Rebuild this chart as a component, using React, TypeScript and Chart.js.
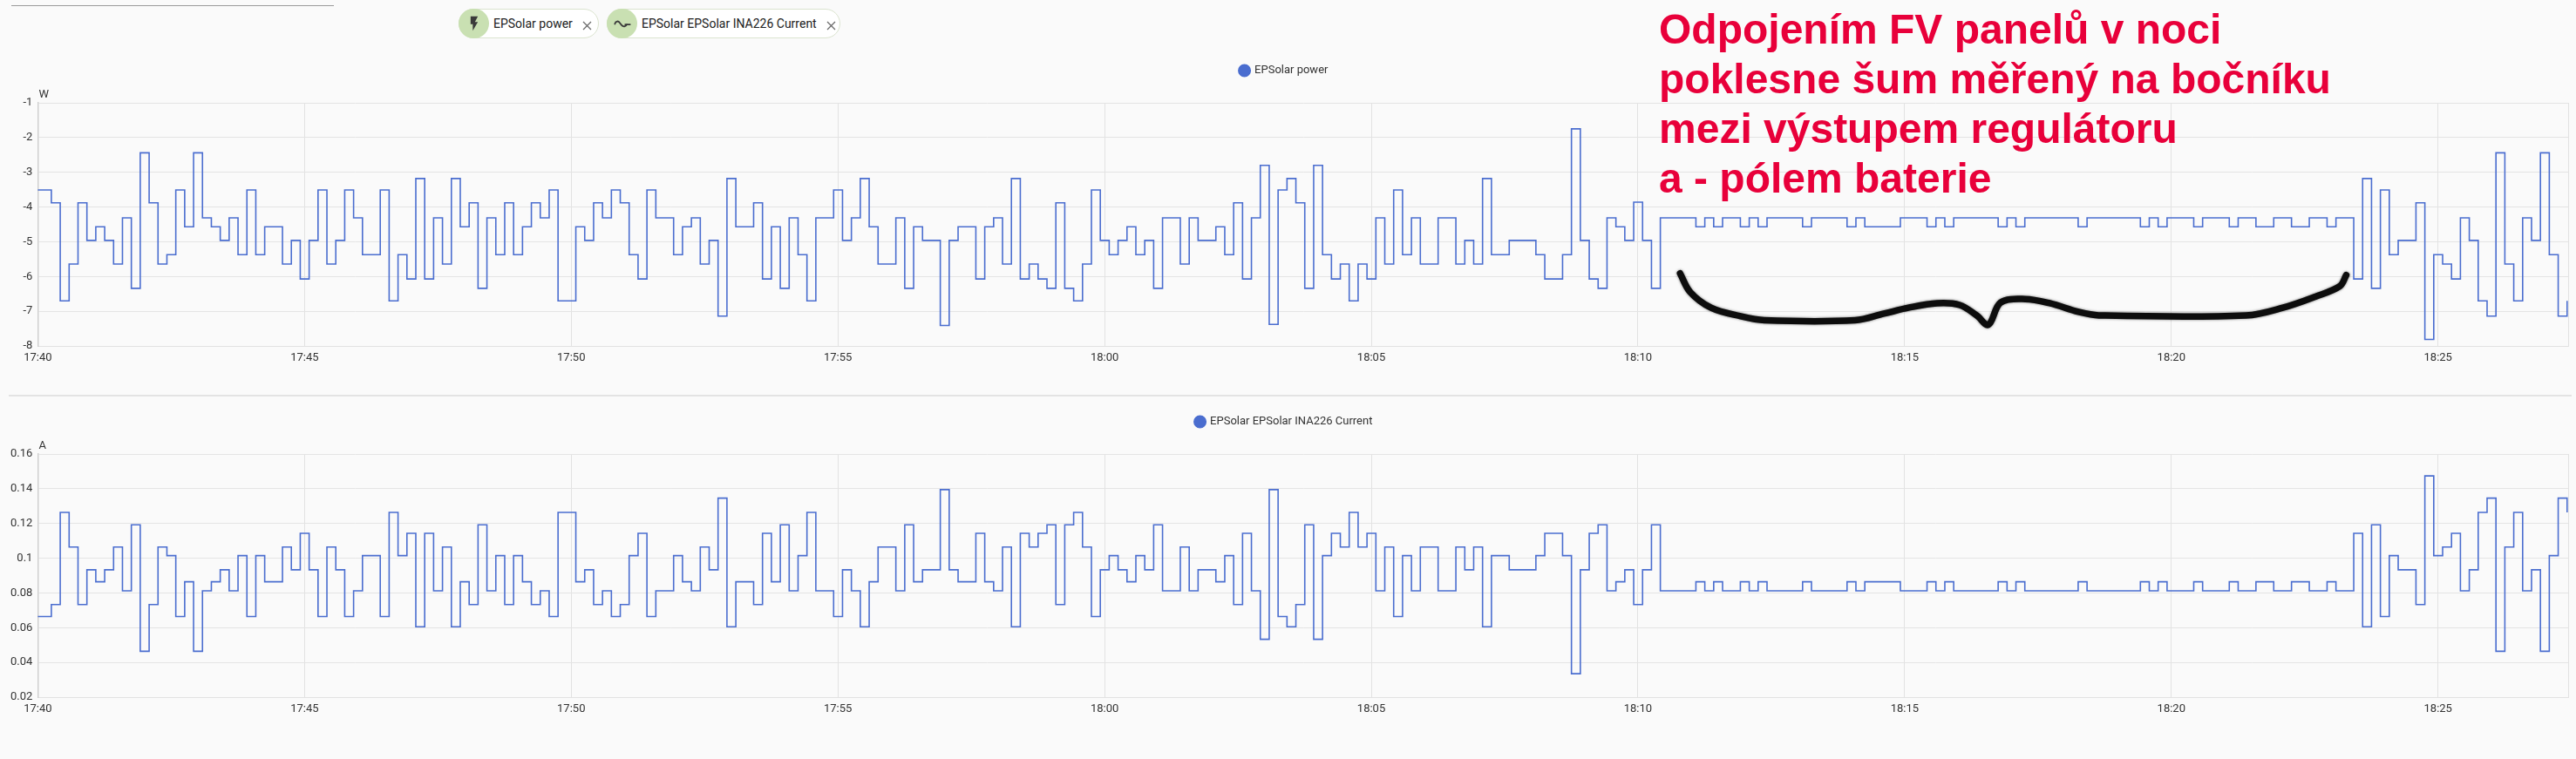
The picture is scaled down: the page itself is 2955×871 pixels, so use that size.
import React, { useEffect, useRef } from 'react';
import { Chart, registerables } from 'chart.js';

Chart.register(...registerables);

// ---------- time axis ----------
const START_HOUR = 17;
const START_MINUTE = 40;
const FIRST_SAMPLE_SEC = -4.8; // first recorded sample, seconds after 17:40:00
const SAMPLE_STEP_SEC = 10; // the sensor reports every 10 s
const X_MAX_MIN = 47.44; // right edge of the plot, minutes after 17:40
const X_TICK_STEP_MIN = 5;

// ---------- series: EPSolar power [W] ----------
const powerValues = [
  -3.51, -3.51, -3.88, -6.70, -5.64, -3.88, -4.96, -4.57, -4.96, -5.64,
  -4.31, -6.34, -2.44, -3.88, -5.64, -5.37, -3.51, -4.57, -2.44, -4.31,
  -4.57, -4.96, -4.31, -5.37, -3.51, -5.37, -4.57, -4.57, -5.64, -4.96,
  -6.07, -4.96, -3.51, -5.64, -4.96, -3.51, -4.31, -5.37, -5.37, -3.51,
  -6.70, -5.37, -6.07, -3.18, -6.07, -4.31, -5.64, -3.18, -4.57, -3.88,
  -6.34, -4.31, -5.37, -3.88, -5.37, -4.57, -3.88, -4.31, -3.51, -6.70,
  -6.70, -4.57, -4.96, -3.88, -4.31, -3.51, -3.88, -5.37, -6.07, -3.51,
  -4.31, -4.31, -5.37, -4.57, -4.31, -5.64, -4.96, -7.14, -3.18, -4.57,
  -4.57, -3.88, -6.07, -4.57, -6.34, -4.31, -5.37, -6.70, -4.31, -4.31,
  -3.51, -4.96, -4.31, -3.18, -4.57, -5.64, -5.64, -4.31, -6.34, -4.57,
  -4.96, -4.96, -7.41, -4.96, -4.57, -4.57, -6.07, -4.57, -4.31, -5.64,
  -3.18, -6.07, -5.64, -6.07, -6.34, -3.88, -6.34, -6.70, -5.64, -3.51,
  -4.96, -5.37, -4.96, -4.57, -5.37, -4.96, -6.34, -4.31, -4.31, -5.64,
  -4.31, -4.96, -4.96, -4.57, -5.37, -3.88, -6.07, -4.31, -2.80, -7.38,
  -3.51, -3.18, -3.88, -6.34, -2.80, -5.37, -6.07, -5.64, -6.70, -5.64,
  -6.07, -4.31, -5.64, -3.51, -5.37, -4.31, -5.64, -5.64, -4.31, -4.31,
  -5.64, -4.96, -5.64, -3.18, -5.37, -5.37, -4.96, -4.96, -4.96, -5.37,
  -6.07, -6.07, -5.37, -1.75, -4.96, -6.07, -6.34, -4.31, -4.57, -4.96,
  -3.86, -4.96, -6.34, -4.31, -4.31, -4.31, -4.31, -4.57, -4.31, -4.57,
  -4.31, -4.31, -4.57, -4.31, -4.57, -4.31, -4.31, -4.31, -4.31, -4.57,
  -4.31, -4.31, -4.31, -4.31, -4.57, -4.31, -4.57, -4.57, -4.57, -4.57,
  -4.31, -4.31, -4.31, -4.57, -4.31, -4.57, -4.31, -4.31, -4.31, -4.31,
  -4.31, -4.57, -4.31, -4.57, -4.31, -4.31, -4.31, -4.31, -4.31, -4.31,
  -4.57, -4.31, -4.31, -4.31, -4.31, -4.31, -4.31, -4.57, -4.31, -4.57,
  -4.31, -4.31, -4.31, -4.57, -4.31, -4.31, -4.31, -4.57, -4.31, -4.31,
  -4.57, -4.57, -4.31, -4.31, -4.57, -4.57, -4.31, -4.31, -4.57, -4.31,
  -4.31, -6.07, -3.18, -6.34, -3.51, -5.37, -4.96, -4.96, -3.88, -7.81,
  -5.37, -5.64, -6.07, -4.31, -4.96, -6.70, -7.14, -2.44, -5.64, -6.70,
  -4.31, -4.96, -2.44, -5.37, -7.14, -6.70,
];

// ---------- series: EPSolar EPSolar INA226 Current [A] ----------
const currentValues = [
  0.0664, 0.0664, 0.0733, 0.1264, 0.1064, 0.0733, 0.0933, 0.0864, 0.0933, 0.1064,
  0.0812, 0.1192, 0.0464, 0.0733, 0.1064, 0.1015, 0.0664, 0.0864, 0.0464, 0.0812,
  0.0864, 0.0933, 0.0812, 0.1015, 0.0664, 0.1015, 0.0864, 0.0864, 0.1064, 0.0933,
  0.1143, 0.0933, 0.0664, 0.1064, 0.0933, 0.0664, 0.0812, 0.1015, 0.1015, 0.0664,
  0.1264, 0.1015, 0.1143, 0.0605, 0.1143, 0.0812, 0.1064, 0.0605, 0.0864, 0.0733,
  0.1192, 0.0812, 0.1015, 0.0733, 0.1015, 0.0864, 0.0733, 0.0812, 0.0664, 0.1264,
  0.1264, 0.0864, 0.0933, 0.0733, 0.0812, 0.0664, 0.0733, 0.1015, 0.1143, 0.0664,
  0.0812, 0.0812, 0.1015, 0.0864, 0.0812, 0.1064, 0.0933, 0.1346, 0.0605, 0.0864,
  0.0864, 0.0733, 0.1143, 0.0864, 0.1192, 0.0812, 0.1015, 0.1264, 0.0812, 0.0812,
  0.0664, 0.0933, 0.0812, 0.0605, 0.0864, 0.1064, 0.1064, 0.0812, 0.1192, 0.0864,
  0.0933, 0.0933, 0.1395, 0.0933, 0.0864, 0.0864, 0.1143, 0.0864, 0.0812, 0.1064,
  0.0605, 0.1143, 0.1064, 0.1143, 0.1192, 0.0733, 0.1192, 0.1264, 0.1064, 0.0664,
  0.0933, 0.1015, 0.0933, 0.0864, 0.1015, 0.0933, 0.1192, 0.0812, 0.0812, 0.1064,
  0.0812, 0.0933, 0.0933, 0.0864, 0.1015, 0.0733, 0.1143, 0.0812, 0.0533, 0.1395,
  0.0664, 0.0605, 0.0733, 0.1192, 0.0533, 0.1015, 0.1143, 0.1064, 0.1264, 0.1064,
  0.1143, 0.0812, 0.1064, 0.0664, 0.1015, 0.0812, 0.1064, 0.1064, 0.0812, 0.0812,
  0.1064, 0.0933, 0.1064, 0.0605, 0.1015, 0.1015, 0.0933, 0.0933, 0.0933, 0.1015,
  0.1143, 0.1143, 0.1015, 0.0335, 0.0933, 0.1143, 0.1192, 0.0812, 0.0864, 0.0933,
  0.0733, 0.0933, 0.1192, 0.0812, 0.0812, 0.0812, 0.0812, 0.0864, 0.0812, 0.0864,
  0.0812, 0.0812, 0.0864, 0.0812, 0.0864, 0.0812, 0.0812, 0.0812, 0.0812, 0.0864,
  0.0812, 0.0812, 0.0812, 0.0812, 0.0864, 0.0812, 0.0864, 0.0864, 0.0864, 0.0864,
  0.0812, 0.0812, 0.0812, 0.0864, 0.0812, 0.0864, 0.0812, 0.0812, 0.0812, 0.0812,
  0.0812, 0.0864, 0.0812, 0.0864, 0.0812, 0.0812, 0.0812, 0.0812, 0.0812, 0.0812,
  0.0864, 0.0812, 0.0812, 0.0812, 0.0812, 0.0812, 0.0812, 0.0864, 0.0812, 0.0864,
  0.0812, 0.0812, 0.0812, 0.0864, 0.0812, 0.0812, 0.0812, 0.0864, 0.0812, 0.0812,
  0.0864, 0.0864, 0.0812, 0.0812, 0.0864, 0.0864, 0.0812, 0.0812, 0.0864, 0.0812,
  0.0812, 0.1143, 0.0605, 0.1192, 0.0664, 0.1015, 0.0933, 0.0933, 0.0733, 0.1474,
  0.1015, 0.1064, 0.1143, 0.0812, 0.0933, 0.1264, 0.1346, 0.0464, 0.1064, 0.1264,
  0.0812, 0.0933, 0.0464, 0.1015, 0.1346, 0.1264,
];

// ---------- hand-drawn brace (annotation), in chart units: minutes / W ----------
const braceMinutes = [
  30.79, 30.98, 31.37, 31.91, 32.37, 34.07, 34.61, 35.07, 35.61, 36.03, 36.35,
  36.57, 36.8, 37.26, 37.72, 38.26, 38.64, 41.4, 42.09, 42.7, 43.16, 43.28,
];
const braceWatts = [
  -5.91, -6.45, -6.9, -7.14, -7.26, -7.26, -7.07, -6.9, -6.77, -6.82, -7.12,
  -7.39, -6.75, -6.65, -6.77, -7.02, -7.12, -7.12, -6.9, -6.58, -6.28, -5.96,
];

// ---------- axes ----------
const POWER_MIN = -8;
const POWER_MAX = -1;
const POWER_STEP = 1;
const CURRENT_MIN = 0.02;
const CURRENT_MAX = 0.16;
const CURRENT_STEP = 0.02;

// ---------- texts ----------
const POWER_LABEL = 'EPSolar power';
const CURRENT_LABEL = 'EPSolar EPSolar INA226 Current';
const POWER_UNIT = 'W';
const CURRENT_UNIT = 'A';
const NOTE_LINES = [
  'Odpojením FV panelů v noci',
  'poklesne šum měřený na bočníku',
  'mezi výstupem regulátoru',
  'a - pólem baterie',
];

const LINE_BLUE = '#4a6dcf';
const FONT = 'Roboto, "Noto Sans", sans-serif';

const sampleMinutes = powerValues.map(
  (_, i) => (FIRST_SAMPLE_SEC + i * SAMPLE_STEP_SEC) / 60
);

function formatClock(minutes: number): string {
  const total = START_HOUR * 60 + START_MINUTE + Math.round(minutes);
  const h = Math.floor(total / 60);
  const m = total % 60;
  return `${h}:${String(m).padStart(2, '0')}`;
}

const unitLabelPlugin = {
  id: 'unitLabel',
  afterDraw(chart: any, _args: any, opts: any) {
    if (!opts || !opts.text) return;
    const { ctx, chartArea } = chart;
    ctx.save();
    ctx.font = `13px ${FONT}`;
    ctx.fillStyle = '#333';
    ctx.textAlign = 'left';
    ctx.textBaseline = 'alphabetic';
    ctx.fillText(opts.text, chartArea.left + 1, chartArea.top - 6);
    ctx.restore();
  },
};

const legendSpacerPlugin = {
  id: 'legendSpacer',
  beforeInit(chart: any, _args: any, opts: any) {
    const legend = chart.legend;
    if (!legend) return;
    const origFit = legend.fit;
    const extra = (opts && opts.extra) || 0;
    legend.fit = function () {
      origFit.call(this);
      this.height += extra;
    };
  },
};

// soft edge for the marker-drawn brace
const braceShadowPlugin = {
  id: 'braceShadow',
  beforeDatasetDraw(chart: any, args: any) {
    if (args.index !== 1) return;
    chart.ctx.save();
    chart.ctx.shadowColor = 'rgba(0,0,0,0.55)';
    chart.ctx.shadowBlur = 3;
  },
  afterDatasetDraw(chart: any, args: any) {
    if (args.index !== 1) return;
    chart.ctx.restore();
  },
};

function buildConfig(
  label: string,
  values: number[],
  unit: string,
  yMin: number,
  yMax: number,
  yStep: number,
  withBrace: boolean
): any {
  const datasets: any[] = [
    {
      label,
      data: values.map((v, i) => ({ x: sampleMinutes[i], y: v })),
      stepped: true,
      borderColor: LINE_BLUE,
      backgroundColor: LINE_BLUE,
      borderWidth: 1.6,
      pointRadius: 0,
      pointHoverRadius: 0,
      fill: false,
    },
  ];
  if (withBrace) {
    datasets.push({
      label: 'brace',
      data: braceMinutes.map((m, i) => ({ x: m, y: braceWatts[i] })),
      borderColor: '#0d0d0d',
      borderWidth: 7.5,
      tension: 0.35,
      pointRadius: 0,
      borderCapStyle: 'round',
      borderJoinStyle: 'round',
      fill: false,
    });
  }
  return {
    type: 'line',
    data: { datasets },
    plugins: [unitLabelPlugin, legendSpacerPlugin, braceShadowPlugin],
    options: {
      animation: false,
      responsive: false,
      devicePixelRatio: 1,
      layout: { padding: { top: 0.5, bottom: 3.4, left: 0, right: 9 } },
      plugins: {
        unitLabel: { text: unit },
        legendSpacer: { extra: 20.5 },
        tooltip: { enabled: false },
        legend: {
          display: true,
          position: 'top',
          labels: {
            usePointStyle: true,
            pointStyle: 'circle',
            boxWidth: 10,
            boxHeight: 9.5,
            color: '#333',
            font: { family: FONT, size: 13 },
            filter: (item: any) => item.datasetIndex === 0,
          },
        },
      },
      scales: {
        x: {
          type: 'linear',
          min: 0,
          max: X_MAX_MIN,
          grid: { color: '#e2e2e2', lineWidth: 1, drawTicks: false },
          border: { display: true, color: '#e2e2e2' },
          ticks: {
            stepSize: X_TICK_STEP_MIN,
            autoSkip: false,
            maxRotation: 0,
            padding: 6,
            color: '#333',
            font: { family: FONT, size: 13 },
            callback: (v: any) =>
              Math.abs(Number(v) % X_TICK_STEP_MIN) < 1e-6 ? formatClock(Number(v)) : '',
          },
        },
        y: {
          type: 'linear',
          min: yMin,
          max: yMax,
          afterFit: (scale: any) => {
            scale.width = 43.4;
          },
          grid: { color: '#e4e4e4', lineWidth: 1, drawTicks: false },
          border: { display: true, color: '#cfcfcf', width: 1.5 },
          ticks: {
            stepSize: yStep,
            padding: 6,
            color: '#333',
            font: { family: FONT, size: 13 },
            callback: (v: any) => String(parseFloat(Number(v).toFixed(2))),
          },
        },
      },
    },
  };
}

function ChartCanvas(props: {
  top: number;
  label: string;
  values: number[];
  unit: string;
  yMin: number;
  yMax: number;
  yStep: number;
  withBrace: boolean;
}) {
  const ref = useRef<HTMLCanvasElement | null>(null);
  useEffect(() => {
    if (!ref.current) return;
    const chart = new Chart(
      ref.current,
      buildConfig(
        props.label,
        props.values,
        props.unit,
        props.yMin,
        props.yMax,
        props.yStep,
        props.withBrace
      )
    );
    return () => chart.destroy();
  }, []);
  return (
    <canvas
      ref={ref}
      width={2955}
      height={364}
      style={{ position: 'absolute', left: 0, top: props.top, width: 2955, height: 364 }}
    />
  );
}

function CloseIcon() {
  return (
    <svg width="11" height="11" viewBox="0 0 11 11">
      <path d="M1 1 L10 10 M10 1 L1 10" stroke="#6b6b6b" strokeWidth="1.3" fill="none" />
    </svg>
  );
}

function BoltIcon() {
  return (
    <svg width="20" height="20" viewBox="0 0 24 24">
      <path d="M7,2V13H10V22L17,10H13L17,2H7Z" fill="#3a3a3a" />
    </svg>
  );
}

function WaveIcon() {
  return (
    <svg width="22" height="22" viewBox="0 0 24 24">
      <path
        d="M2.5 12.5 C3.5 8.5 7 8.5 8.5 11 L11 14 C13 16.5 16.5 16 17.5 13 M15.5 13.2 H21.5"
        stroke="#3a3a3a"
        strokeWidth="2"
        fill="none"
        strokeLinecap="round"
      />
    </svg>
  );
}

function Chip(props: { left: number; width: number; text: string; closeX: number; icon: React.ReactNode }) {
  return (
    <div
      style={{
        position: 'absolute',
        left: props.left,
        top: 10,
        width: props.width,
        height: 34,
        boxSizing: 'border-box',
        border: '1px solid #dbe4cf',
        borderRadius: 17,
        background: '#ffffff',
      }}
    >
      <div
        style={{
          position: 'absolute',
          left: -1,
          top: -1,
          width: 35,
          height: 34,
          borderRadius: 17,
          background: '#c9e0b2',
          display: 'flex',
          alignItems: 'center',
          justifyContent: 'center',
        }}
      >
        {props.icon}
      </div>
      <div
        style={{
          position: 'absolute',
          left: 39,
          top: 0,
          height: 32,
          lineHeight: '32px',
          fontFamily: FONT,
          fontSize: 14,
          color: '#212121',
          whiteSpace: 'nowrap',
        }}
      >
        {props.text}
      </div>
      <div style={{ position: 'absolute', left: props.closeX, top: 10, width: 11, height: 11 }}>
        <CloseIcon />
      </div>
    </div>
  );
}

export default function App() {
  return (
    <div
      style={{
        position: 'fixed',
        left: 0,
        top: 0,
        width: 2955,
        height: 871,
        background: '#fafafa',
        overflow: 'hidden',
      }}
    >
      <div style={{ position: 'absolute', left: 13, top: 6, width: 370, height: 1, background: '#9a9a9a' }} />
      <Chip left={526} width={161} text={POWER_LABEL} closeX={141} icon={<BoltIcon />} />
      <Chip left={696} width={268} text={CURRENT_LABEL} closeX={251} icon={<WaveIcon />} />

      <ChartCanvas
        top={64}
        label={POWER_LABEL}
        values={powerValues}
        unit={POWER_UNIT}
        yMin={POWER_MIN}
        yMax={POWER_MAX}
        yStep={POWER_STEP}
        withBrace={true}
      />

      <div style={{ position: 'absolute', left: 10, top: 453, width: 2940, height: 2, background: '#e3e3e3' }} />

      <ChartCanvas
        top={467}
        label={CURRENT_LABEL}
        values={currentValues}
        unit={CURRENT_UNIT}
        yMin={CURRENT_MIN}
        yMax={CURRENT_MAX}
        yStep={CURRENT_STEP}
        withBrace={false}
      />

      <div
        style={{
          position: 'absolute',
          left: 1903,
          top: 4.6,
          fontFamily: '"Liberation Sans", Arial, sans-serif',
          fontWeight: 'bold',
          fontSize: 48,
          lineHeight: '57.3px',
          color: '#e8003a',
          whiteSpace: 'pre',
        }}
      >
        {NOTE_LINES.map((line) => (
          <div key={line}>{line}</div>
        ))}
      </div>
    </div>
  );
}
